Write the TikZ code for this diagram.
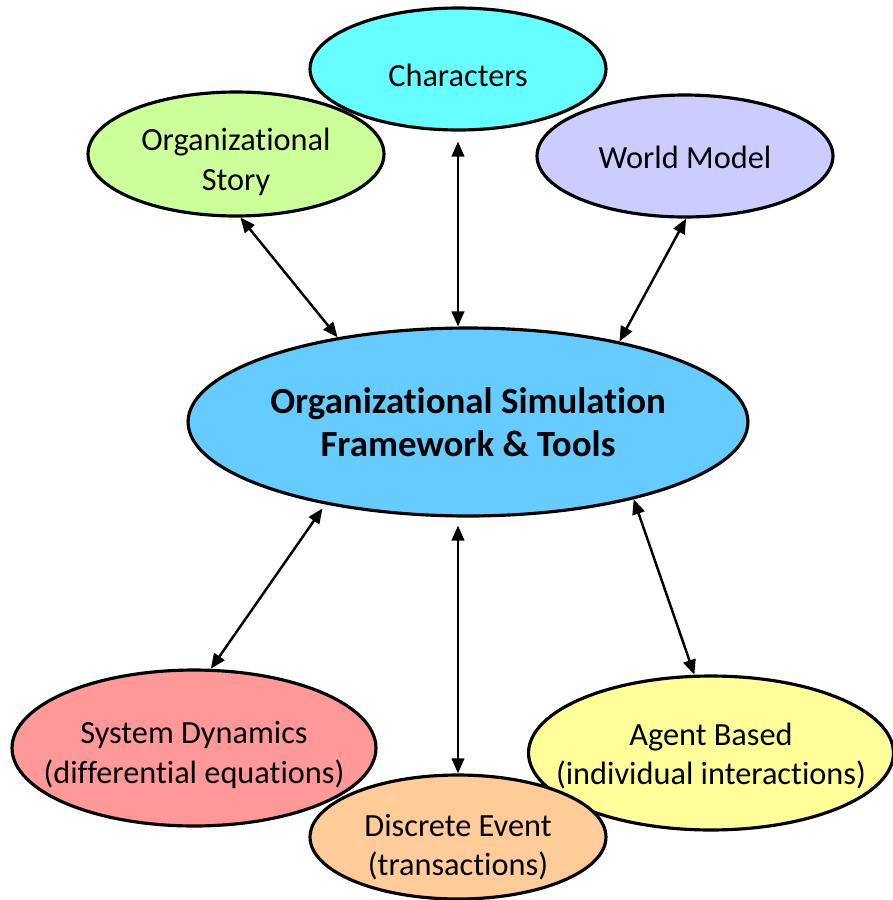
\documentclass[tikz,border=0pt]{standalone}
\usepackage{fontspec}
\setmainfont{Carlito}[Ligatures=NoCommon]
\usetikzlibrary{shapes.geometric,arrows.meta}

\definecolor{charcyan}{HTML}{66FFFF}
\definecolor{storygreen}{HTML}{CCFF99}
\definecolor{worldlilac}{HTML}{CCCCFF}
\definecolor{coreblue}{HTML}{66CCFF}
\definecolor{sdpink}{HTML}{FF9999}
\definecolor{deorange}{HTML}{FFCC99}
\definecolor{abyellow}{HTML}{FFFF99}

\begin{document}
\begin{tikzpicture}[x=0.02cm, y=-0.02cm,
    blob/.style={ellipse, draw, line width=1.8pt, inner sep=0pt},
    txt/.style={align=center, inner sep=0pt, font=\fontsize{18.4}{22.5}\selectfont},
    link/.style={{Triangle[length=0.3cm,width=0.25cm]}-{Triangle[length=0.3cm,width=0.25cm]},
                 line width=1.4pt}]
  \useasboundingbox (0,0) rectangle (893,900);

  % upper ring
  \node[blob, fill=storygreen, minimum width=5.92cm, minimum height=2.48cm,
        label={[txt, yshift=-0.16cm]center:Organizational\\Story}] (story) at (236,154) {};
  \node[blob, fill=worldlilac, minimum width=5.92cm, minimum height=2.44cm,
        label={[txt, yshift=-0.02cm]center:World Model}] (world) at (685,156) {};
  \node[blob, fill=charcyan, minimum width=5.92cm, minimum height=2.44cm,
        label={[txt, yshift=-0.12cm]center:Characters}] (chars) at (458,69) {};

  % framework in the middle
  \node[blob, fill=coreblue, minimum width=11.2cm, minimum height=3.76cm,
        label={[txt, font=\fontsize{21}{24.5}\selectfont\bfseries]center:Organizational Simulation\\Framework \& Tools}] (core) at (468,422) {};

  % lower ring
  \node[blob, fill=sdpink, minimum width=7.28cm, minimum height=3.12cm,
        label={[txt, yshift=-0.14cm]center:System Dynamics\\(differential equations)}] (sd) at (194,748) {};
  \node[blob, fill=abyellow, minimum width=7.3cm, minimum height=3.08cm,
        label={[txt, yshift=-0.06cm]center:Agent Based\\(individual interactions)}] (ab) at (711,753) {};
  \node[blob, fill=deorange, minimum width=5.92cm, minimum height=2.48cm,
        label={[txt, yshift=-0.2cm]center:Discrete Event\\(transactions)}] (de) at (458,837) {};

  % two-way links
  \draw[link] (story.-86) -- (core.147);
  \draw[link, shorten <=0.2cm] (chars.south) -- (chars.south |- core.north);
  \draw[link] (world.-89) -- (core.28);
  \draw[link, shorten <=0.1cm] (core.210) -- (sd.78);
  \draw[link, shorten <=0.16cm] (de.north |- core.south) -- (de.north);
  \draw[link] (core.-25) -- (ab.102);
\end{tikzpicture}
\end{document}
